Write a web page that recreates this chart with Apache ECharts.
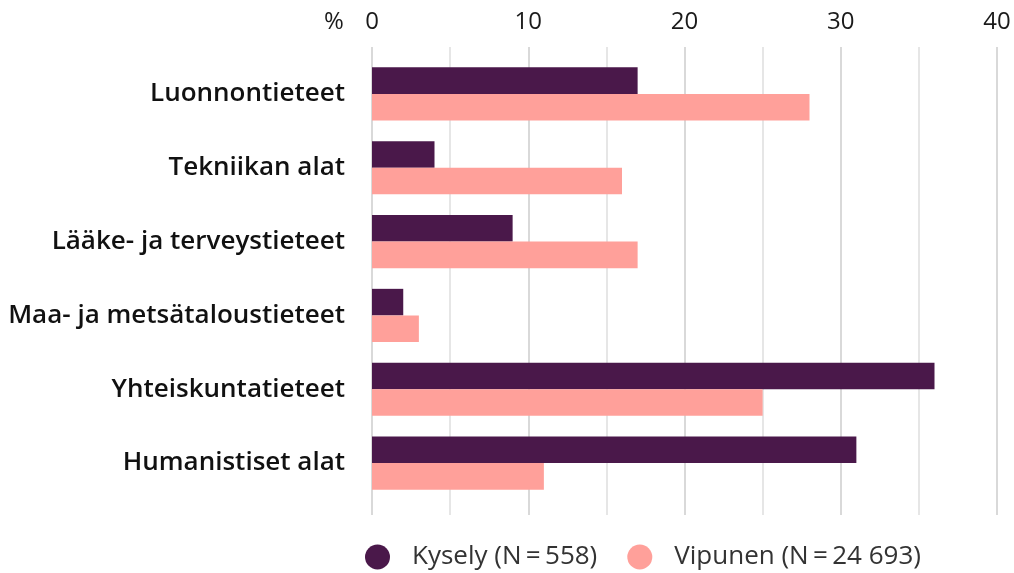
<!DOCTYPE html>
<html lang="fi">
<head>
    <meta charset="UTF-8">
    <title>Kysely vs Vipunen</title>
    <script src="https://cdn.jsdelivr.net/npm/echarts@6/dist/echarts.min.js"></script>
    <style>
        html, body { margin: 0; height: 100%; background: #fff; }
        #chart { width: 1014px; height: 573px; }
    </style>
</head>
<body>
    <div id="chart"></div>
    <script>
        var categories = ['Luonnontieteet', 'Tekniikan alat', 'Lääke- ja terveystieteet',
            'Maa- ja metsätaloustieteet', 'Yhteiskuntatieteet', 'Humanistiset alat'];
        var kysely = [17, 4, 9, 2, 36, 31];
        var vipunen = [28, 16, 17, 3, 25, 11];
        var seriesNames = ['Kysely (N\u2009=\u2009558)', 'Vipunen (N\u2009=\u200924 693)'];

        var font = '"Open Sans", "Noto Sans", sans-serif';
        var chart = echarts.init(document.getElementById('chart'));
        chart.setOption({
            animation: false,
            textStyle: { fontFamily: font },
            // grid 0 only carries the gridlines + top labels, grid 1 holds the bars
            grid: [
                { left: 372, right: 17, top: 47, bottom: 58 },
                { left: 372, right: 17, top: 57, bottom: 73 }
            ],
            xAxis: [{
                gridIndex: 0,
                type: 'value',
                position: 'top',
                min: 0,
                max: 40,
                interval: 5,
                axisLine: { show: false },
                axisTick: { show: false },
                axisLabel: {
                    fontSize: 24, color: '#1a1a1a', margin: 13,
                    formatter: function (v) { return v % 10 === 0 ? v : ''; }
                },
                splitLine: { lineStyle: { color: ['#d9d9d9', '#e6e6e6'], width: 2 } }
            }, {
                gridIndex: 1,
                type: 'value',
                min: 0,
                max: 40,
                show: false
            }],
            yAxis: [{
                gridIndex: 0,
                type: 'category',
                show: false
            }, {
                gridIndex: 1,
                type: 'category',
                inverse: true,
                data: categories,
                axisLine: { show: false },
                axisTick: { show: false },
                axisLabel: { fontSize: 26, fontWeight: 600, color: '#111', margin: 27, padding: [4, 0, 0, 0] }
            }],
            legend: {
                bottom: -2,
                left: 360,
                icon: 'circle',
                itemWidth: 25,
                itemHeight: 25,
                itemGap: 30,
                textStyle: { fontSize: 26, color: '#333', fontFamily: font, padding: [0, 0, 0, 17] },
                data: seriesNames
            },
            graphic: [{
                type: 'text', left: 324, top: 10,
                style: { text: '%', fontSize: 24, fill: '#1a1a1a', fontFamily: font }
            }],
            series: [{
                name: seriesNames[0],
                type: 'bar',
                xAxisIndex: 1,
                yAxisIndex: 1,
                data: kysely,
                barGap: '0%',
                barCategoryGap: '28%',
                itemStyle: { color: '#4a184a' }
            }, {
                name: seriesNames[1],
                type: 'bar',
                xAxisIndex: 1,
                yAxisIndex: 1,
                data: vipunen,
                itemStyle: { color: '#ffa09a' }
            }]
        });
    </script>
</body>
</html>
